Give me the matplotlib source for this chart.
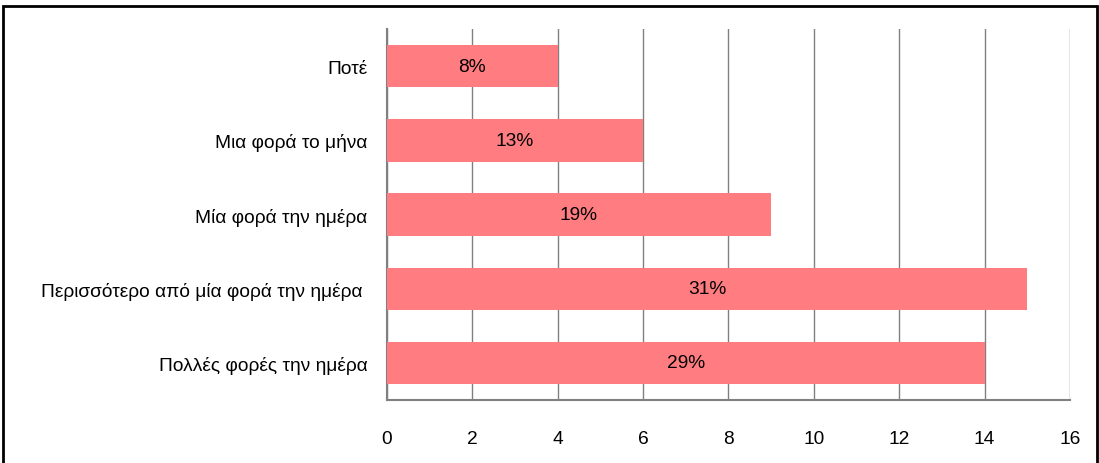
import matplotlib.pyplot as plt
from matplotlib.patches import Rectangle

categories = ['Πολλές φορές την ημέρα', 'Περισσότερο από μία φορά την ημέρα ',
              'Μία φορά την ημέρα', 'Μια φορά το μήνα', 'Ποτέ']
counts = [14, 15, 9, 6, 4]
percents = ['29%', '31%', '19%', '13%', '8%']
xticks = [0, 2, 4, 6, 8, 10, 12, 14, 16]

plt.rcParams['font.family'] = ['Liberation Sans', 'DejaVu Sans']

fig = plt.figure(figsize=(10.99, 4.64), dpi=100)
ax = fig.add_axes([0.352, 0.136, 0.6216, 0.799])

ypos = range(len(categories))
bars = ax.barh(ypos, counts, height=0.57, color='#FF7C80', zorder=3)
for b, p in zip(bars, percents):
    ax.text(b.get_width() / 2, b.get_y() + b.get_height() / 2, p,
            ha='center', va='center', fontsize=13.8, zorder=4)

ax.set_xlim(0, 16)
ax.set_ylim(-0.5, 4.5)
ax.set_xticks(xticks)
ax.set_yticks(list(ypos))
ax.set_yticklabels(categories)
ax.tick_params(axis='both', length=0, labelsize=13.8)
ax.tick_params(axis='x', pad=22)
ax.tick_params(axis='y', pad=14)
ax.xaxis.grid(True, color='#808080', linewidth=1, zorder=0)
for s in ['top', 'right']:
    ax.spines[s].set_visible(False)
for s in ['left', 'bottom']:
    ax.spines[s].set_color('#808080')
    ax.spines[s].set_linewidth(1.5)

# outer chart border
fig.patches.append(Rectangle((0.003, -0.05), 0.995, 1.035, transform=fig.transFigure,
                             fill=False, edgecolor='black', linewidth=2))

fig.savefig('out.png', dpi=100)
